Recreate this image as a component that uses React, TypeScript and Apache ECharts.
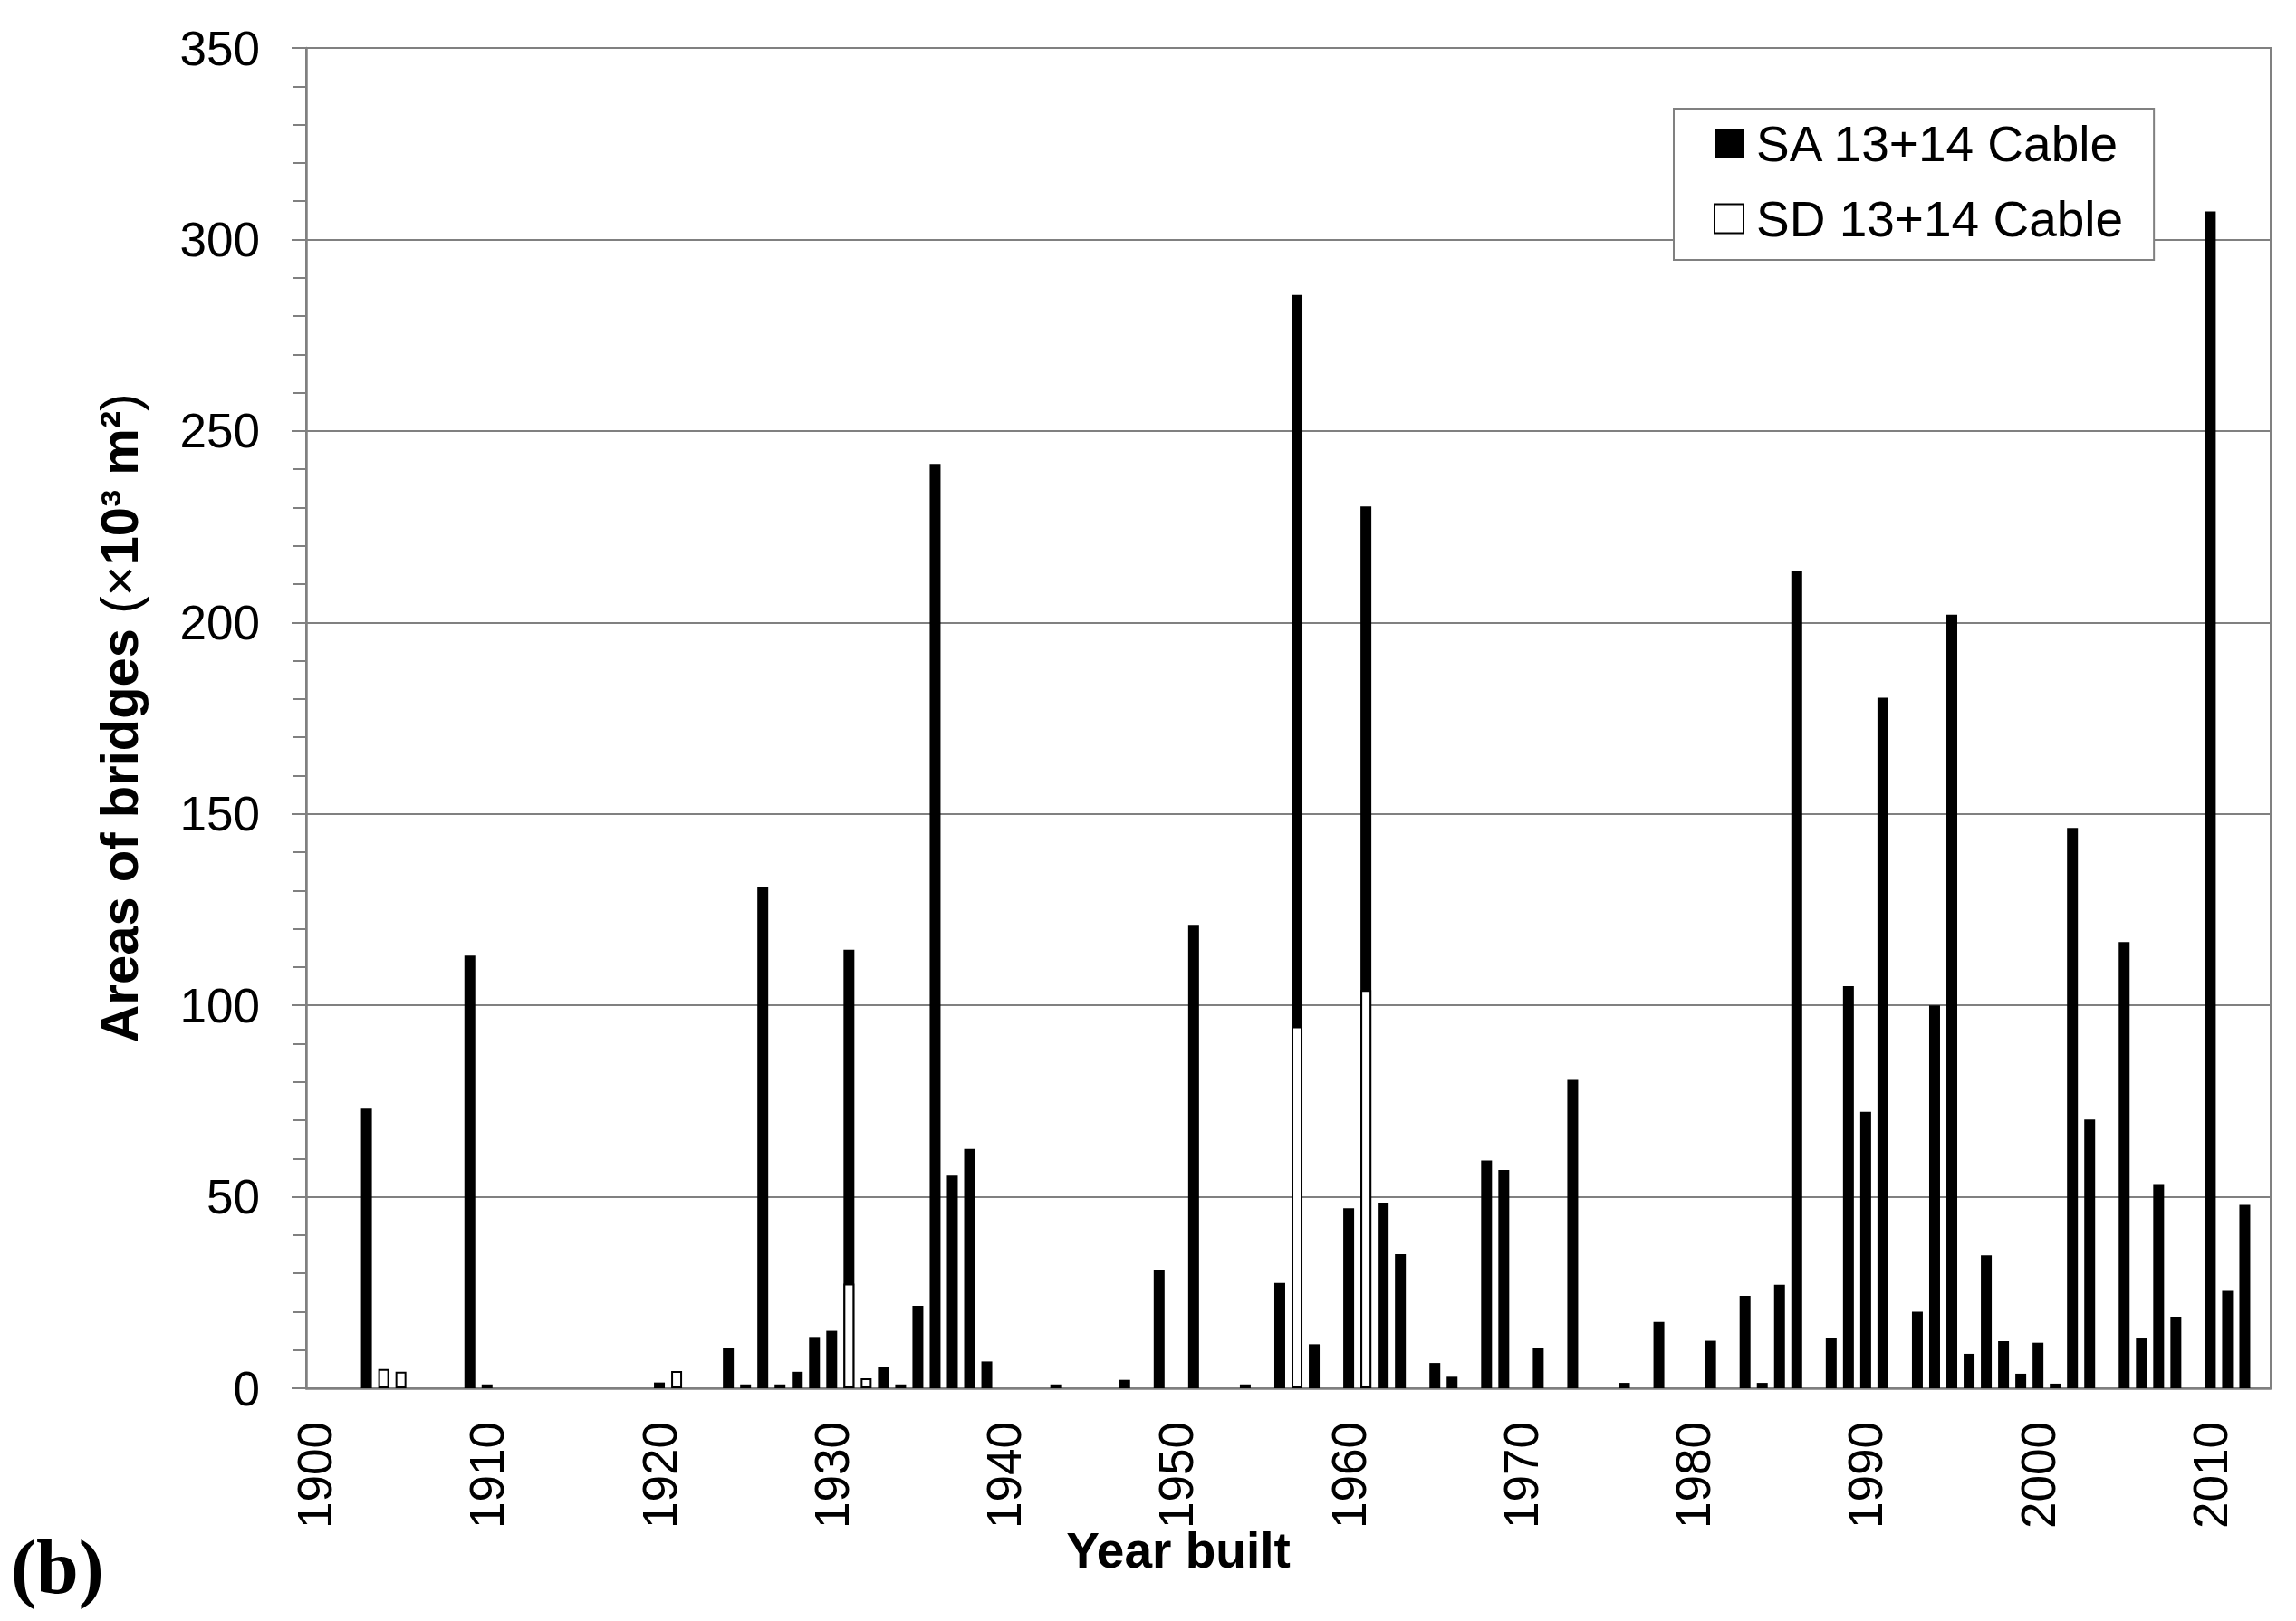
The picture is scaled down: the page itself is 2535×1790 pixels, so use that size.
import React, { useEffect, useRef } from "react";
import * as echarts from "echarts";

const years: string[] = [
  "1900","1901","1902","1903","1904","1905","1906","1907","1908","1909",
  "1910","1911","1912","1913","1914","1915","1916","1917","1918","1919",
  "1920","1921","1922","1923","1924","1925","1926","1927","1928","1929",
  "1930","1931","1932","1933","1934","1935","1936","1937","1938","1939",
  "1940","1941","1942","1943","1944","1945","1946","1947","1948","1949",
  "1950","1951","1952","1953","1954","1955","1956","1957","1958","1959",
  "1960","1961","1962","1963","1964","1965","1966","1967","1968","1969",
  "1970","1971","1972","1973","1974","1975","1976","1977","1978","1979",
  "1980","1981","1982","1983","1984","1985","1986","1987","1988","1989",
  "1990","1991","1992","1993","1994","1995","1996","1997","1998","1999",
  "2000","2001","2002","2003","2004","2005","2006","2007","2008","2009",
  "2010","2011","2012","2013",
];

const saValues: (number | null)[] = [
  null, null, null, 73, null, null, null, null, null, 113,
  1, null, null, null, null, null, null, null, null, null,
  1.5, null, null, null, 10.5, 1, 131, 1, 4.3, 13.4,
  15, 114.5, null, 5.5, 1, 21.5, 241.4, 55.5, 62.5, 7,
  null, null, null, 1, null, null, null, 2.2, null, 31,
  null, 121, null, null, 1, null, 27.5, 285.5, 11.5, null,
  47, 230.3, 48.5, 35, null, 6.6, 3, null, 59.5, 57,
  null, 10.6, null, 80.5, null, null, 1.4, null, 17.3, null,
  null, 12.4, null, 24.1, 1.4, 27, 213.3, null, 13.2, 105,
  72.2, 180.3, null, 20, 100, 202, 9, 34.7, 12.3, 3.8,
  11.9, 1.2, 146.3, 70.2, null, 116.5, 13, 53.3, 18.7, null,
  307.3, 25.4, 47.9, null,
];

const sdValues: (number | null)[] = [
  null, null, null, null, 5, 4.3, null, null, null, null,
  null, null, null, null, null, null, null, null, null, null,
  null, 4.5, null, null, null, null, null, null, null, null,
  null, 27.3, 2.6, null, null, null, null, null, null, null,
  null, null, null, null, null, null, null, null, null, null,
  null, null, null, null, null, null, null, 94.5, null, null,
  null, 104, null, null, null, null, null, null, null, null,
  null, null, null, null, null, null, null, null, null, null,
  null, null, null, null, null, null, null, null, null, null,
  null, null, null, null, null, null, null, null, null, null,
  null, null, null, null, null, null, null, null, null, null,
  null, null, null, null,
];

const seriesNames = ["SA 13+14 Cable", "SD 13+14 Cable"];
const yTitle = "{b|Areas of bridges }{n|(×}{b|10³ m²}{n|)}";
const xTitle = "Year built";
const panelLabel = "(b)";

const SANS = "'Liberation Sans', Arial, Helvetica, sans-serif";
const SERIF = "'Liberation Serif', 'Times New Roman', serif";
const GRAY = "#808080";

export default function App() {
  const ref = useRef<HTMLDivElement>(null);
  useEffect(() => {
    if (!ref.current) return;
    const chart = echarts.init(ref.current, undefined, { renderer: "svg" });
    chart.setOption({
      animation: false,
      backgroundColor: "#ffffff",
      grid: {
        left: 338,
        right: 28,
        top: 53,
        bottom: 257,
        containLabel: false,
        show: true,
        borderColor: GRAY,
        borderWidth: 2,
        backgroundColor: "transparent",
      },
      legend: {
        orient: "vertical",
        left: 1848,
        top: 120,
        padding: [11, 34, 18, 44],
        itemWidth: 32,
        itemHeight: 32,
        itemGap: 28,
        borderColor: GRAY,
        borderWidth: 2,
        backgroundColor: "#ffffff",
        icon: "rect",
        selectedMode: false,
        textStyle: {
          fontFamily: SANS,
          fontSize: 55,
          lineHeight: 55,
          color: "#000",
          padding: [0, 0, 0, 9],
        },
        data: seriesNames,
      },
      xAxis: {
        type: "category",
        data: years,
        boundaryGap: true,
        axisLine: { show: true, lineStyle: { color: GRAY, width: 2.5 } },
        axisTick: { show: false },
        axisLabel: {
          interval: 9,
          rotate: 90,
          margin: 37,
          fontFamily: SANS,
          fontSize: 53,
          color: "#000",
        },
        splitLine: { show: false },
      },
      yAxis: {
        type: "value",
        min: 0,
        max: 350,
        interval: 50,
        name: yTitle,
        nameLocation: "middle",
        nameRotate: 90,
        nameGap: 178,
        nameTextStyle: {
          rich: {
            b: { fontFamily: SANS, fontSize: 58, fontWeight: "bold", color: "#000" },
            n: { fontFamily: SANS, fontSize: 58, fontWeight: "normal", color: "#000" },
          },
        },
        axisLine: { show: true, lineStyle: { color: GRAY, width: 2.5 } },
        axisTick: { show: true, length: 16, lineStyle: { color: GRAY, width: 2 } },
        minorTick: { show: true, splitNumber: 5, length: 14, lineStyle: { color: GRAY, width: 2 } },
        axisLabel: {
          margin: 51,
          fontFamily: SANS,
          fontSize: 53,
          color: "#000",
        },
        splitLine: { show: true, lineStyle: { color: GRAY, width: 2 } },
      },
      series: [
        {
          name: seriesNames[0],
          type: "bar",
          data: saValues,
          barWidth: 12,
          barGap: "-100%",
          itemStyle: { color: "#000000" },
        },
        {
          name: seriesNames[1],
          type: "bar",
          data: sdValues,
          barWidth: 12,
          barGap: "-100%",
          itemStyle: { color: "#ffffff", borderColor: "#000000", borderWidth: 2 },
        },
      ],
      graphic: [
        {
          type: "text",
          x: 1301,
          y: 1712,
          style: {
            text: xTitle,
            fontFamily: SANS,
            fontSize: 55,
            fontWeight: "bold",
            fill: "#000",
            align: "center",
            verticalAlign: "middle",
          },
        },
        {
          type: "text",
          x: 12,
          y: 1730,
          style: {
            text: panelLabel,
            fontFamily: SERIF,
            fontSize: 84,
            fontWeight: "bold",
            fill: "#000",
            align: "left",
            verticalAlign: "middle",
          },
        },
      ],
    });
    return () => chart.dispose();
  }, []);
  return (
    <div
      ref={ref}
      style={{ position: "fixed", left: 0, top: 0, width: 2535, height: 1790, background: "#fff" }}
    />
  );
}
